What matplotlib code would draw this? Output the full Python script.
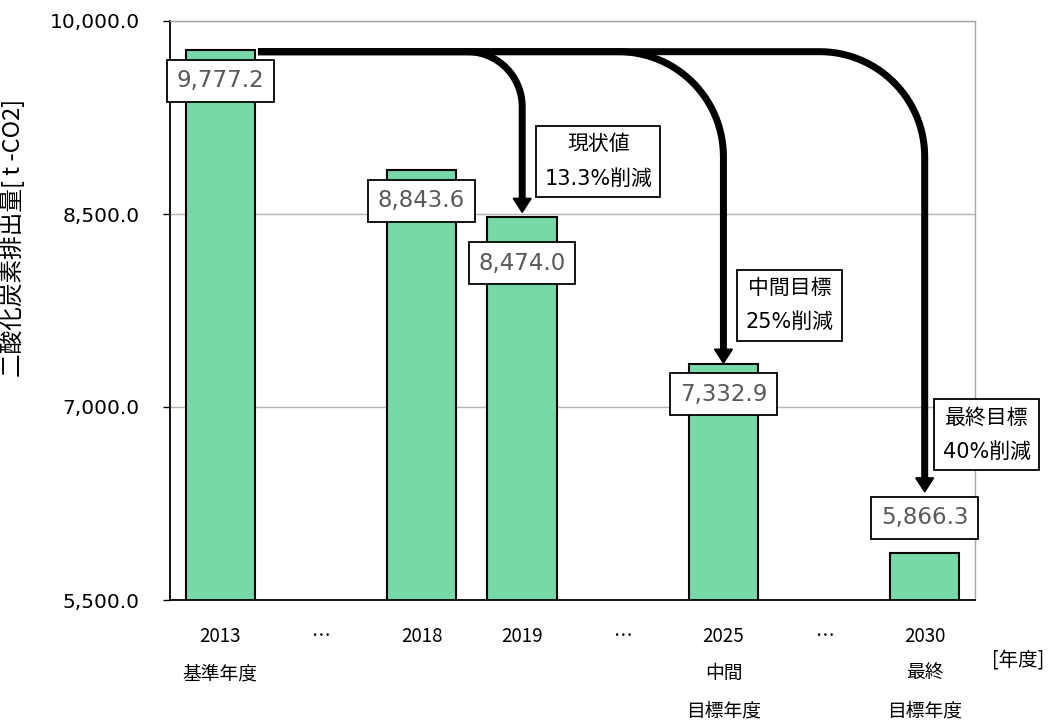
import numpy as np
import matplotlib
matplotlib.use('Agg')
import matplotlib.pyplot as plt
from matplotlib.ticker import StrMethodFormatter

# data
categories = ['2013\n基準年度', '…', '2018', '2019', '…', '2025\n中間\n目標年度', '…', '2030\n最終\n目標年度']
bar_pos = [0, 2, 3, 5, 7]
values = [9777.2, 8843.6, 8474.0, 7332.9, 5866.3]
y_ticks = [5500.0, 7000.0, 8500.0, 10000.0]
target_idx = [2, 3, 4]  # which bars the arrows point at
target_text = ['現状値\n13.3%削減', '中間目標\n25%削減', '最終目標\n40%削減']

JP = ['Noto Sans CJK JP', 'DejaVu Sans']
MIX = ['DejaVu Sans', 'Noto Sans CJK JP']
plt.rcParams['font.family'] = MIX

fig = plt.figure(figsize=(10.54, 7.2), dpi=100)
ax = fig.add_axes([170 / 1054, 120 / 720, 805 / 1054, 579 / 720])

bar_w = 0.69
ax.bar(bar_pos, values, width=bar_w, color='#77D9A8', edgecolor='black', linewidth=1.5, zorder=2)
ax.set_xlim(-0.5, 7.5)
ax.set_ylim(5500, 10000)

ax.set_yticks(y_ticks)
ax.yaxis.set_major_formatter(StrMethodFormatter('{x:,.1f}'))
ax.tick_params(axis='y', length=5, width=1, pad=17, labelsize=14.5, colors='black')
ax.set_xticks(range(len(categories)))
ax.set_xticklabels(categories, family=JP, fontsize=13.5, linespacing=2.0)
ax.tick_params(axis='x', length=0, pad=19)
ax.yaxis.grid(True, color='#b3b3b3', lw=1)
ax.set_axisbelow(True)

for s in ['top', 'right']:
    ax.spines[s].set_color('#a6a6a6')
    ax.spines[s].set_linewidth(1)
for s in ['left', 'bottom']:
    ax.spines[s].set_color('black')
    ax.spines[s].set_linewidth(1.3)

ax.set_ylabel('二酸化炭素排出量[ t -CO2]', family=JP, fontsize=17)
ax.yaxis.set_label_coords(-0.18, 0.625)
fig.text(1018 / 1054, 1 - 660 / 720, '[年度]', family=JP, fontsize=14, ha='center', va='center')

# value labels (offset in pixels from bar top)
label_dy = [-31, -31, -46, -30, 35]
for x, v, dy in zip(bar_pos, values, label_dy):
    ax.annotate(f'{v:,.1f}', xy=(x, v), xytext=(0, dy), textcoords='offset pixels',
                ha='center', va='center', fontsize=16.5, color='#595959', zorder=5,
                bbox=dict(boxstyle='square,pad=0.42', fc='white', ec='black', lw=1.3))

# arrows, built in pixel space then mapped back to data
to_px = ax.transData.transform
to_data = ax.transData.inverted().transform
sx, sy = to_px((bar_pos[0] + bar_w / 2 + 0.03, values[0]))
sy -= 2
radius = [55, 105, 105]
tip_gap = [5, 1, 61]
lw_px = 7
head_len, head_hw = 14, 9
box_off = [(76, 51), (66, 58), (62, 57)]
for k, i in enumerate(target_idx):
    tx, top = to_px((bar_pos[i], values[i]))
    ty = top + tip_gap[k]
    r = radius[k]
    th = np.linspace(np.pi / 2, 0, 30)
    arc = np.column_stack([tx - r + r * np.cos(th), sy - r + r * np.sin(th)])
    pts = np.vstack([[sx, sy], arc, [tx, ty + head_len]])
    d = to_data(pts)
    ax.plot(d[:, 0], d[:, 1], color='black', lw=lw_px * 0.72, solid_capstyle='butt',
            solid_joinstyle='round', zorder=3, clip_on=False)
    head = to_data(np.array([[tx - head_hw, ty + head_len], [tx + head_hw, ty + head_len], [tx, ty]]))
    ax.fill(head[:, 0], head[:, 1], color='black', zorder=3, clip_on=False)
    # annotation box
    bx, by = to_data((tx + box_off[k][0], ty + box_off[k][1]))
    ax.text(bx, by, target_text[k], ha='center', va='center', fontsize=15, linespacing=1.9,
            zorder=5, clip_on=False,
            bbox=dict(boxstyle='square,pad=0.4', fc='white', ec='black', lw=1.3))

fig.savefig('out.png', dpi=100)
